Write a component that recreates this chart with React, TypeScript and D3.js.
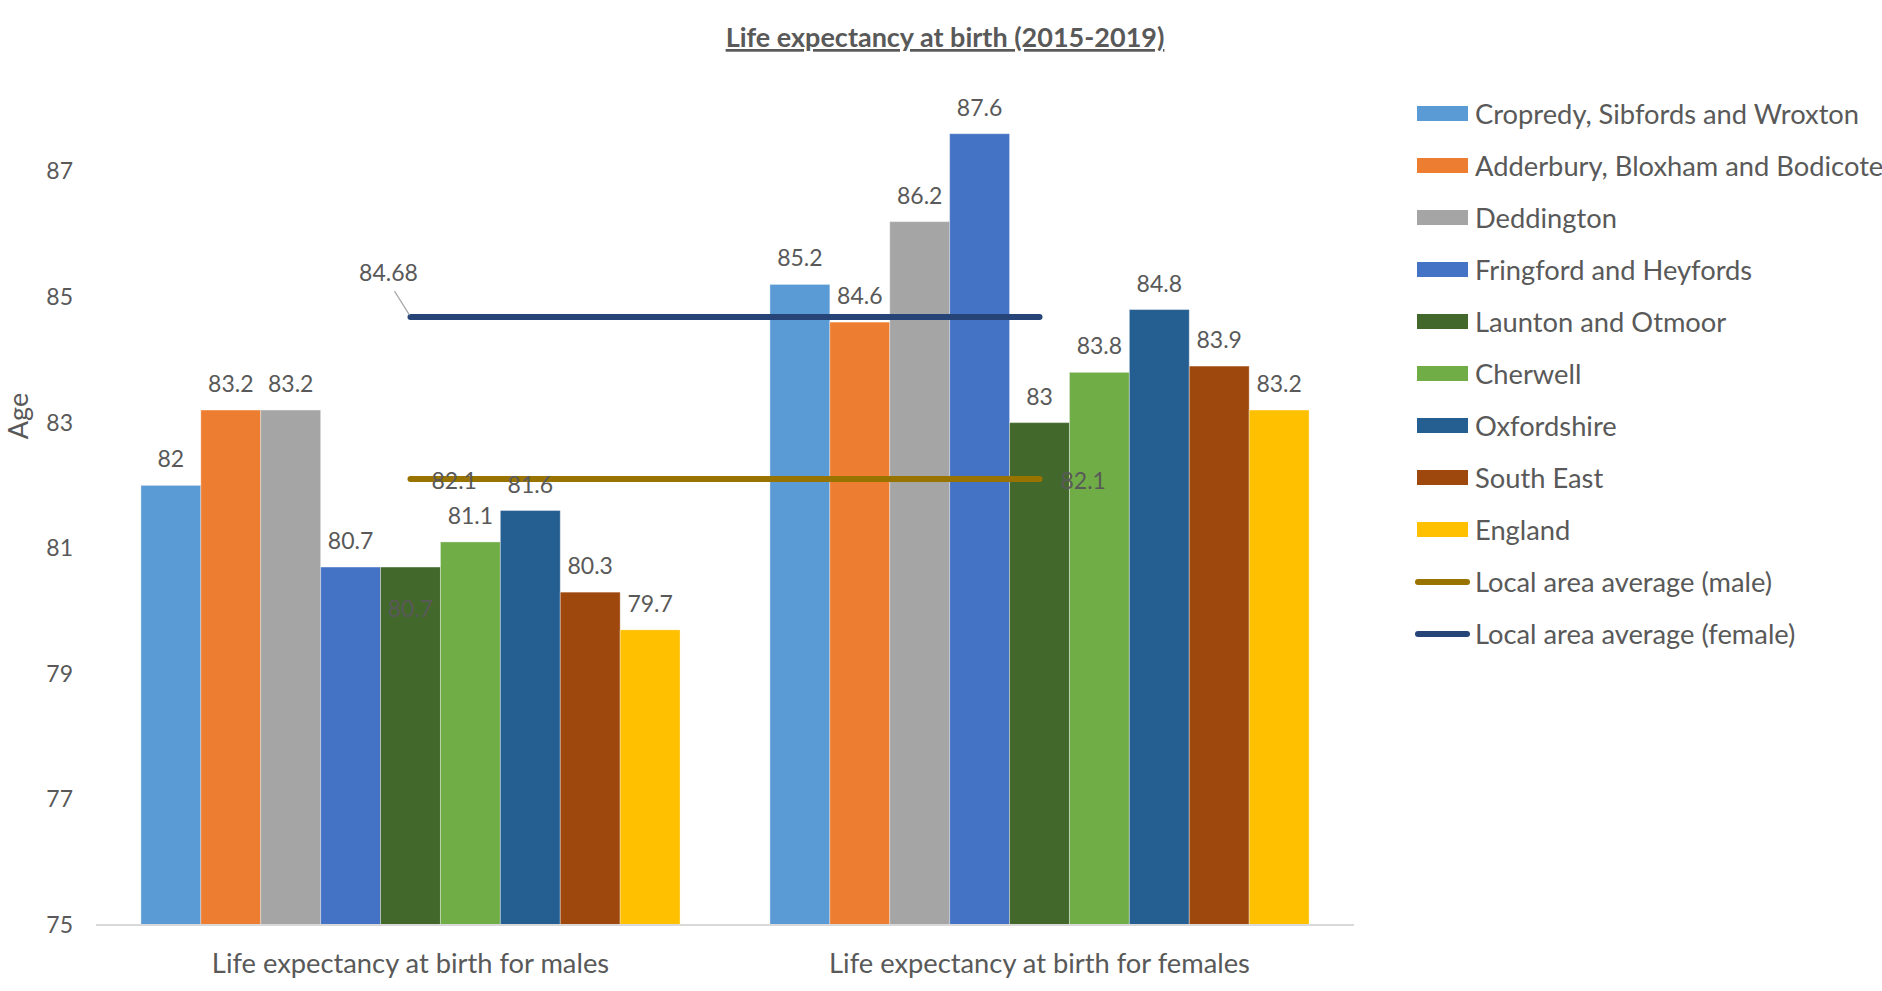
import React from "react";
import * as d3 from "d3";

const categories = ["Life expectancy at birth for males", "Life expectancy at birth for females"];
const seriesNames = [
  "Cropredy, Sibfords and Wroxton",
  "Adderbury, Bloxham and Bodicote",
  "Deddington",
  "Fringford and Heyfords",
  "Launton and Otmoor",
  "Cherwell",
  "Oxfordshire",
  "South East",
  "England",
];
const seriesColors = ["#5B9BD5", "#ED7D31", "#A5A5A5", "#4472C4", "#43682B", "#70AD47", "#255E91", "#9E480E", "#FFC000"];
const maleValues = [82, 83.2, 83.2, 80.7, 80.7, 81.1, 81.6, 80.3, 79.7];
const femaleValues = [85.2, 84.6, 86.2, 87.6, 83, 83.8, 84.8, 83.9, 83.2];
const lineNames = ["Local area average (male)", "Local area average (female)"];
const lineColors = ["#997300", "#264478"];
const maleAverage = [82.1, 82.1];
const femaleAverage = [84.68, 84.68];
const yTicks = [75, 77, 79, 81, 83, 85, 87];

const FONT = "Lato, 'Open Sans', sans-serif";
const TEXT = "#595959";

export default function App() {
  const W = 1882, H = 991;
  const y = d3.scaleLinear().domain([75, 89]).range([925, 45.8]);
  const x0 = d3.scaleBand<string>().domain(categories).range([96, 1354]).paddingInner(0).paddingOuter(0);
  const x1 = d3.scaleBand<string>().domain(seriesNames).range([0, x0.bandwidth()]).paddingInner(0).paddingOuter(0.75);
  const groups = [maleValues, femaleValues];
  const lines = [maleAverage, femaleAverage];
  const lineGen = d3.line<number>()
    .x((_, i) => (x0(categories[i]) as number) + x0.bandwidth() / 2)
    .y((d) => y(d));

  const legendItems = [
    ...seriesNames.map((n, i) => ({ name: n, color: seriesColors[i], type: "rect" })),
    ...lineNames.map((n, i) => ({ name: n, color: lineColors[i], type: "line" })),
  ];

  const cx = (i: number) => (x0(categories[i]) as number) + x0.bandwidth() / 2;

  return (
    <svg width={W} height={H} style={{ position: "absolute", left: 0, top: 0, background: "#fff" }} fontFamily={FONT}>
      <rect x={0} y={0} width={W} height={H} fill="#fff" />
      <text x={945} y={47} textAnchor="middle" fontSize={27} fontWeight="bold" fill={TEXT} style={{ textDecoration: "underline" }}>
        Life expectancy at birth (2015-2019)
      </text>

      {/* y axis tick labels */}
      {yTicks.map((t) => (
        <text key={t} x={73} y={y(t)} dy="0.35em" textAnchor="end" fontSize={23} fill={TEXT}>
          {t}
        </text>
      ))}
      <text transform={`translate(28,416) rotate(-90)`} textAnchor="middle" fontSize={27} fill={TEXT}>
        Age
      </text>

      {/* bars */}
      {groups.map((vals, gi) => (
        <g key={gi} transform={`translate(${x0(categories[gi])},0)`}>
          {vals.map((v, si) => (
            <rect
              key={si}
              x={x1(seriesNames[si])}
              y={y(v)}
              width={x1.bandwidth()}
              height={y(75) - y(v)}
              fill={seriesColors[si]}
              stroke="#ffffff"
              strokeOpacity={0.35}
              strokeWidth={1}
            />
          ))}
        </g>
      ))}

      {/* axis line */}
      <line x1={96} x2={1354} y1={y(75)} y2={y(75)} stroke="#D9D9D9" strokeWidth={2} />

      {/* category labels */}
      {categories.map((c, i) => (
        <text key={c} x={cx(i)} y={963} dy="0.35em" textAnchor="middle" fontSize={27.3} fill={TEXT}>
          {c}
        </text>
      ))}

      {/* average lines */}
      {lines.map((l, i) => (
        <path key={i} d={lineGen(l) as string} stroke={lineColors[i]} strokeWidth={6} strokeLinecap="round" fill="none" />
      ))}

      {/* bar labels */}
      {groups.map((vals, gi) =>
        vals.map((v, si) => {
          const bx = (x0(categories[gi]) as number) + (x1(seriesNames[si]) as number) + x1.bandwidth() / 2;
          const moved = gi === 0 && si === 4;
          const ly = moved ? y(v) + 42 : y(v) - 26;
          return (
            <text key={`${gi}-${si}`} x={bx} y={ly} dy="0.35em" textAnchor="middle" fontSize={23} fill={TEXT}>
              {v}
            </text>
          );
        })
      )}

      {/* line labels */}
      {maleAverage.map((v, i) => (
        <text key={`m${i}`} x={cx(i) + 21} y={y(v) + 2} dy="0.35em" textAnchor="start" fontSize={23} fill={TEXT}>
          {v}
        </text>
      ))}
      <line x1={cx(0) - 16} y1={y(femaleAverage[0]) - 26} x2={cx(0) - 1} y2={y(femaleAverage[0]) - 2} stroke="#A6A6A6" strokeWidth={1.2} />
      <text x={cx(0) - 22} y={y(femaleAverage[0]) - 44} dy="0.35em" textAnchor="middle" fontSize={23} fill={TEXT}>
        {femaleAverage[0]}
      </text>

      {/* legend */}
      {legendItems.map((it, i) => {
        const ly = 114 + i * 52;
        return (
          <g key={it.name}>
            {it.type === "rect" ? (
              <rect x={1417} y={ly - 8} width={51} height={15} fill={it.color} />
            ) : (
              <line x1={1418} x2={1467} y1={ly} y2={ly} stroke={it.color} strokeWidth={6} strokeLinecap="round" />
            )}
            <text x={1475} y={ly} dy="0.35em" fontSize={27.3} fill={TEXT}>
              {it.name}
            </text>
          </g>
        );
      })}
    </svg>
  );
}
